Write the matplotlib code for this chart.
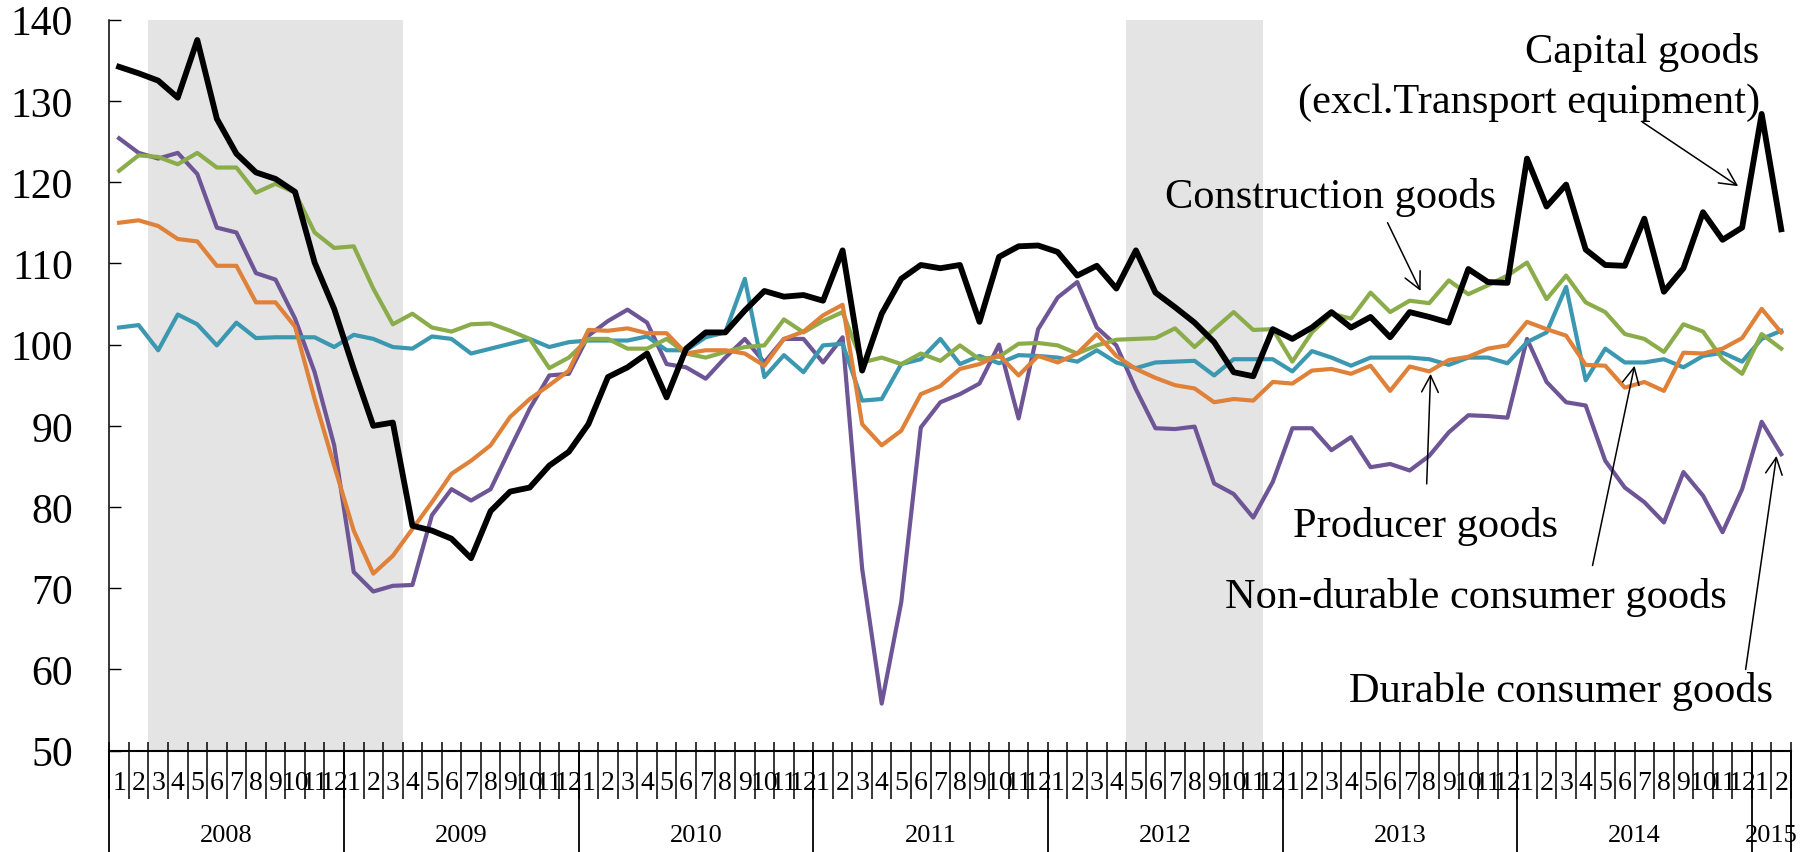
import matplotlib
matplotlib.use('Agg')
import matplotlib.pyplot as plt
import numpy as np

plt.rcParams['font.family'] = ['Liberation Serif', 'DejaVu Serif']

# monthly index, 2008-01 .. 2015-02
years = ['2008', '2009', '2010', '2011', '2012', '2013', '2014', '2015']
months_per_year = [12, 12, 12, 12, 12, 12, 12, 2]

capital = [134.2, 133.4, 132.5, 130.4, 137.5, 127.8, 123.5, 121.2, 120.4, 118.8, 110.1, 104.4,
           97.0, 90.0, 90.4, 77.7, 77.1, 76.1, 73.7, 79.5, 81.9, 82.4, 85.1, 86.8,
           90.2, 96.0, 97.2, 98.9, 93.5, 99.5, 101.5, 101.5, 104.2, 106.6, 105.9, 106.1,
           105.4, 111.6, 96.8, 103.8, 108.1, 109.8, 109.4, 109.8, 102.8, 110.8, 112.1, 112.2,
           111.4, 108.5, 109.7, 106.9, 111.6, 106.4, 104.6, 102.7, 100.3, 96.6, 96.1, 101.9,
           100.7, 102.1, 104.0, 102.1, 103.4, 100.9, 104.0, 103.4, 102.7, 109.3, 107.7, 107.6,
           122.9, 117.0, 119.7, 111.7, 109.8, 109.7, 115.5, 106.5, 109.4, 116.3, 112.9, 114.4,
           128.4, 114.2]

construction = [121.4, 123.3, 123.1, 122.2, 123.6, 121.8, 121.8, 118.7, 119.8, 118.7, 113.8, 111.9,
                112.1, 106.9, 102.5, 103.8, 102.1, 101.6, 102.5, 102.6, 101.7, 100.7, 97.1, 98.4,
                100.7, 100.7, 99.5, 99.5, 100.7, 98.9, 98.4, 99.1, 99.7, 99.9, 103.1, 101.5,
                102.9, 104.0, 97.8, 98.4, 97.6, 98.9, 98.0, 99.9, 98.2, 98.5, 100.1, 100.2,
                99.9, 98.9, 99.9, 100.6, 100.7, 100.8, 102.0, 99.7, 101.9, 104.0, 101.8, 101.9,
                97.9, 101.5, 103.8, 103.2, 106.4, 104.0, 105.4, 105.1, 107.9, 106.2, 107.3, 108.5,
                110.1, 105.6, 108.5, 105.2, 104.0, 101.3, 100.7, 99.1, 102.5, 101.6, 98.2, 96.4,
                101.3, 99.5]

producer = [102.1, 102.4, 99.3, 103.7, 102.5, 99.9, 102.7, 100.8, 100.9, 100.9, 100.9, 99.7,
            101.2, 100.7, 99.7, 99.5, 101.0, 100.7, 98.9, 99.5, 100.1, 100.7, 99.7, 100.3,
            100.5, 100.5, 100.5, 101.0, 99.3, 99.3, 100.9, 101.5, 108.1, 96.0, 98.7, 96.6,
            99.9, 100.1, 93.1, 93.3, 97.6, 98.2, 100.7, 97.6, 98.6, 97.7, 98.7, 98.6,
            98.4, 97.9, 99.3, 97.8, 97.1, 97.8, 97.9, 98.0, 96.2, 98.2, 98.2, 98.2,
            96.7, 99.2, 98.4, 97.4, 98.4, 98.4, 98.4, 98.2, 97.5, 98.4, 98.4, 97.7,
            100.3, 101.5, 107.1, 95.6, 99.5, 97.8, 97.8, 98.2, 97.2, 98.6, 99.0, 97.9,
            100.7, 101.7]

non_durable = [115.0, 115.3, 114.6, 113.0, 112.7, 109.7, 109.7, 105.2, 105.2, 102.2, 93.3, 85.1,
               77.1, 71.8, 74.0, 77.3, 80.6, 84.1, 85.7, 87.6, 91.1, 93.3, 95.0, 96.8,
               101.8, 101.7, 102.0, 101.4, 101.4, 98.9, 99.3, 99.3, 98.9, 97.4, 100.7, 101.6,
               103.6, 104.9, 90.2, 87.6, 89.4, 93.9, 94.9, 97.0, 97.6, 98.7, 96.2, 98.6,
               97.8, 98.9, 101.3, 98.6, 97.0, 95.9, 95.0, 94.6, 92.9, 93.3, 93.1, 95.4,
               95.2, 96.8, 97.0, 96.4, 97.4, 94.3, 97.3, 96.7, 98.1, 98.5, 99.5, 99.9,
               102.8, 101.9, 101.1, 97.5, 97.4, 94.7, 95.4, 94.3, 99.0, 98.9, 99.5, 100.8,
               104.4, 101.5]

durable = [125.4, 123.6, 122.9, 123.6, 121.0, 114.4, 113.8, 108.8, 108.0, 103.2, 96.6, 87.6,
           72.0, 69.6, 70.3, 70.4, 79.0, 82.2, 80.8, 82.2, 87.2, 92.1, 96.2, 96.4,
           101.1, 102.9, 104.3, 102.7, 97.6, 97.2, 95.8, 98.4, 100.7, 97.8, 100.7, 100.7,
           97.8, 100.9, 72.4, 55.8, 68.3, 89.8, 92.9, 93.9, 95.2, 100.0, 90.9, 101.9,
           105.8, 107.7, 102.1, 99.9, 94.5, 89.7, 89.6, 89.9, 82.9, 81.6, 78.7, 83.1,
           89.7, 89.7, 87.0, 88.6, 84.9, 85.3, 84.5, 86.3, 89.2, 91.3, 91.2, 91.0,
           100.7, 95.4, 92.9, 92.5, 85.7, 82.4, 80.6, 78.1, 84.3, 81.4, 76.9, 82.2,
           90.5, 86.5]

# recession shading (month index ranges)
shade_spans = [(1.5, 14.5), (51.5, 58.5)]

month_labels = []
for n in months_per_year:
    month_labels += [str(m) for m in range(1, n + 1)]
n_months = len(month_labels)
x = np.arange(n_months)

fig = plt.figure(figsize=(18.12, 8.53), dpi=100)
ax = fig.add_axes([0.06032, 0.11876, 0.92809, 0.85698])
ax_h = 731.0  # axes height in pixels

for a, b in shade_spans:
    ax.axvspan(a, b, color='#e4e4e4', lw=0, zorder=0)

ax.plot(x, durable, color='#6e5596', lw=3.0, zorder=3)
ax.plot(x, producer, color='#3b98b0', lw=3.0, zorder=3)
ax.plot(x, construction, color='#8bac4b', lw=3.0, zorder=3)
ax.plot(x, non_durable, color='#df8139', lw=3.0, zorder=3)
ax.plot(x, capital, color='black', lw=4.2, zorder=4)

ax.set_xlim(-0.5, n_months - 0.5)
ax.set_ylim(50, 140)
ax.set_yticks(np.arange(50, 141, 10))
ax.tick_params(axis='y', direction='in', length=8.6, width=1.0, pad=26, labelsize=30)
ax.set_xticks([])
for s in ['top', 'right']:
    ax.spines[s].set_visible(False)
ax.spines['left'].set_linewidth(1.1)
ax.spines['bottom'].set_linewidth(1.5)

# month / year category axis
tr = ax.get_xaxis_transform()
bounds = np.arange(n_months + 1) - 0.5
year_starts = np.concatenate([[0], np.cumsum(months_per_year)]) - 0.5
ax.vlines(bounds, -48.3 / ax_h, 8.7 / ax_h, transform=tr, colors='black', lw=1.1, clip_on=False)
ax.vlines(year_starts, -102 / ax_h, 0, transform=tr, colors='black', lw=1.3, clip_on=False)
for i, lab in enumerate(month_labels):
    ax.text(i, -31.5 / ax_h, lab, transform=tr, ha='center', va='center', fontsize=20)
for k, yr in enumerate(years):
    mid = (year_starts[k] + year_starts[k + 1]) / 2
    ax.text(mid, -84 / ax_h, yr, transform=tr, ha='center', va='center', fontsize=19)

# labels and arrows
arrow = dict(arrowstyle='->,head_length=0.6,head_width=0.3', lw=1.1, color='black',
             mutation_scale=20, shrinkA=0, shrinkB=0)
fs = 30.5
ax.text(83.9, 134.8, 'Capital goods', ha='right', va='baseline', fontsize=fs)
ax.text(83.9, 128.6, '(excl.Transport equipment)', ha='right', va='baseline', fontsize=fs)
ax.annotate('', xy=(82.8, 119.5), xytext=(77.9, 127.4), arrowprops=arrow)

ax.text(53.47, 116.95, 'Construction goods', ha='left', va='baseline', fontsize=fs)
ax.annotate('', xy=(66.56, 106.6), xytext=(64.87, 115.0), arrowprops=arrow)

ax.text(60.02, 76.45, 'Producer goods', ha='left', va='baseline', fontsize=fs)
ax.annotate('', xy=(67.07, 96.4), xytext=(66.87, 82.85), arrowprops=arrow)

ax.text(56.54, 67.7, 'Non-durable consumer goods', ha='left', va='baseline', fontsize=fs)
ax.annotate('', xy=(77.5, 97.4), xytext=(75.35, 72.8), arrowprops=arrow)

ax.text(62.88, 56.15, 'Durable consumer goods', ha='left', va='baseline', fontsize=fs)
ax.annotate('', xy=(84.76, 86.3), xytext=(83.18, 60.0), arrowprops=arrow)

fig.savefig('out.png', dpi=100)
